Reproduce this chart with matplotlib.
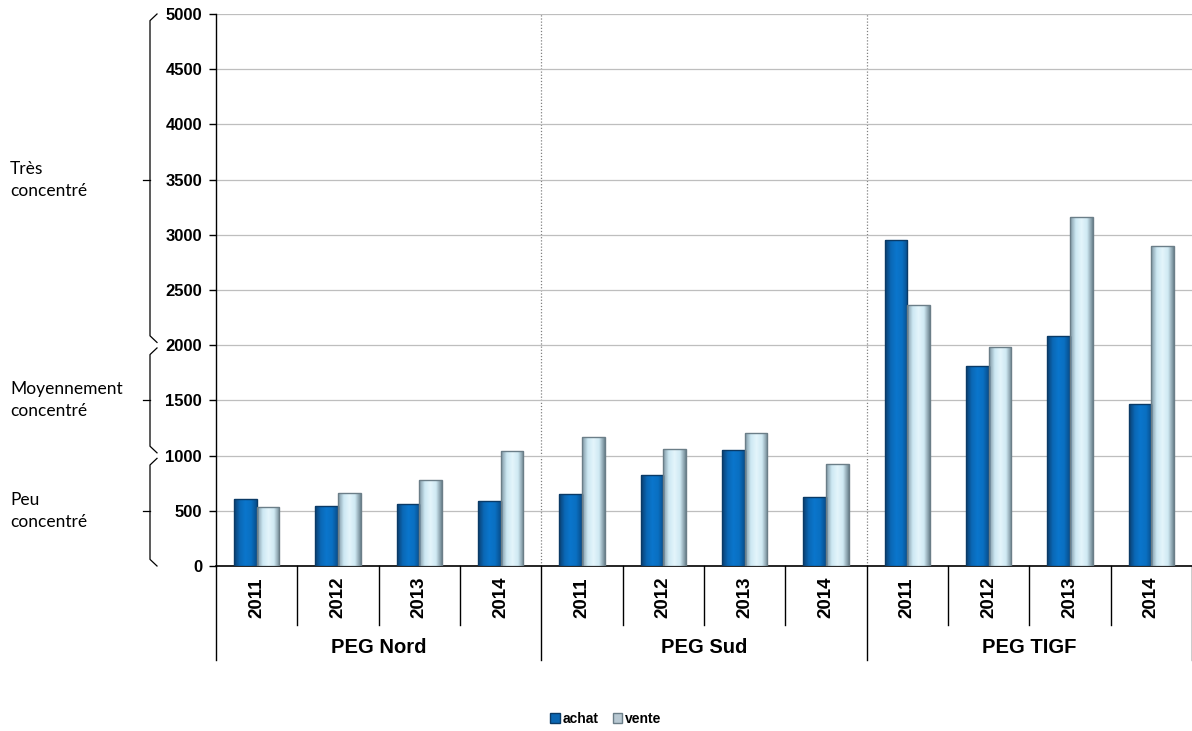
import numpy as np
import matplotlib
matplotlib.use("Agg")
import matplotlib.pyplot as plt
from matplotlib.patches import Patch
from matplotlib.colors import LinearSegmentedColormap
from matplotlib.transforms import blended_transform_factory

# data
groups = ["PEG Nord", "PEG Sud", "PEG TIGF"]
years = ["2011", "2012", "2013", "2014"]
achat = [610, 545, 565, 585,
         650, 825, 1050, 625,
         2950, 1810, 2080, 1465]
vente = [535, 665, 775, 1045,
         1165, 1060, 1205, 920,
         2360, 1980, 3160, 2900]

# concentration bands for the left brace annotations
bands = [(0, 1000, "Peu\nconcentré"),
         (1000, 2000, "Moyennement\nconcentré"),
         (2000, 5000, "Très\nconcentré")]

plt.rcParams["font.family"] = ["Liberation Sans", "DejaVu Sans"]

fig = plt.figure(figsize=(11.92, 7.31), dpi=100)
ax = fig.add_axes([216 / 1192, 165 / 731, 976 / 1192, 552 / 731])

n = len(achat)
x = np.arange(n)
w = 0.28

# cylinder-like shading across each bar
cm_achat = LinearSegmentedColormap.from_list(
    "achat", ["#0A3F70", "#0B68B6", "#0A76CC", "#0A70C2", "#084E8C"])
cm_vente = LinearSegmentedColormap.from_list(
    "vente", ["#7E97A3", "#CDE8F3", "#E4F5FB", "#CFE9F3", "#6E8591"])
grad = np.linspace(0, 1, 64).reshape(1, -1)


def shaded_bars(xpos, heights, cmap, edge):
    bars = ax.bar(xpos, heights, w, color="none", edgecolor=edge, linewidth=1.0, zorder=4)
    for r in bars:
        x0, y0 = r.get_x(), r.get_y()
        im = ax.imshow(grad, cmap=cmap, aspect="auto", zorder=3,
                       extent=(x0, x0 + r.get_width(), y0, y0 + r.get_height()))
        im.set_clip_path(r)
    return bars


shaded_bars(x - w / 2, achat, cm_achat, "#0A3A66")
shaded_bars(x + w / 2, vente, cm_vente, "#6B7E88")

ax.set_xlim(-0.5, n - 0.5)
ax.set_ylim(0, 5000)
ax.set_yticks(np.arange(0, 5001, 500))
ax.set_yticklabels([str(v) for v in range(0, 5001, 500)], fontsize=12, fontweight="bold")
ax.yaxis.grid(True, color="#BEBEBE", linewidth=0.9, zorder=0)
ax.tick_params(axis="y", length=5, width=1, pad=5)
ax.set_xticks([])
for s in ["top", "right"]:
    ax.spines[s].set_visible(False)
ax.spines["left"].set_linewidth(1.0)
ax.spines["bottom"].set_linewidth(1.2)

# dotted group separators inside the plot
for b in [3.5, 7.5]:
    ax.axvline(b, color="#808080", linestyle=(0, (1, 1.5)), linewidth=0.9, zorder=1)

tr = blended_transform_factory(ax.transData, ax.transAxes)
# category labels and separators below the axis
for i in range(n):
    ax.text(x[i], -0.057, years[i % 4], rotation=90, ha="center", va="center",
            fontsize=13.5, fontweight="bold", transform=tr)
for b in np.arange(-0.5, n, 1.0):
    if b in (-0.5, 3.5, 7.5, 11.5):
        y0 = -0.170
    else:
        y0 = -0.107
    ax.plot([b, b], [0, y0], color="black", linewidth=1.0, transform=tr, clip_on=False)
for g, name in enumerate(groups):
    ax.text(g * 4 + 1.5, -0.148, name, ha="center", va="center",
            fontsize=14.5, fontweight="bold", transform=tr)

# left braces with band labels
tb = blended_transform_factory(fig.transFigure, ax.transData)
xb = 150 / 1192
xh = 157 / 1192
xm = 143 / 1192
for lo, hi, label in bands:
    a = lo + 25 if lo > 0 else lo
    b = hi - 25 if hi < 5000 else hi
    ax.plot([xh, xb, xb, xh], [a, a + 60, b - 60, b], color="black",
            linewidth=0.9, transform=tb, clip_on=False)
    mid = (lo + hi) / 2 if hi < 5000 else 3500
    ax.plot([xm, xb], [mid, mid], color="black", linewidth=0.9, transform=tb, clip_on=False)
    ax.text(10 / 1192, mid, label, ha="left", va="center", fontsize=12.5,
            family=["Lato", "DejaVu Sans"], linespacing=1.45, transform=tb)

handles = [Patch(facecolor="#0A66B2", edgecolor="#0A3A66", label="achat"),
           Patch(facecolor="#B8C8D2", edgecolor="#6B7E88", label="vente")]
fig.legend(handles=handles, loc="center", bbox_to_anchor=(606 / 1192, 12 / 731),
           ncol=2, frameon=False, handlelength=0.7, handleheight=0.7,
           handletextpad=0.2, columnspacing=1.0,
           prop={"size": 10, "weight": "bold"})

fig.savefig("out.png", dpi=100)
